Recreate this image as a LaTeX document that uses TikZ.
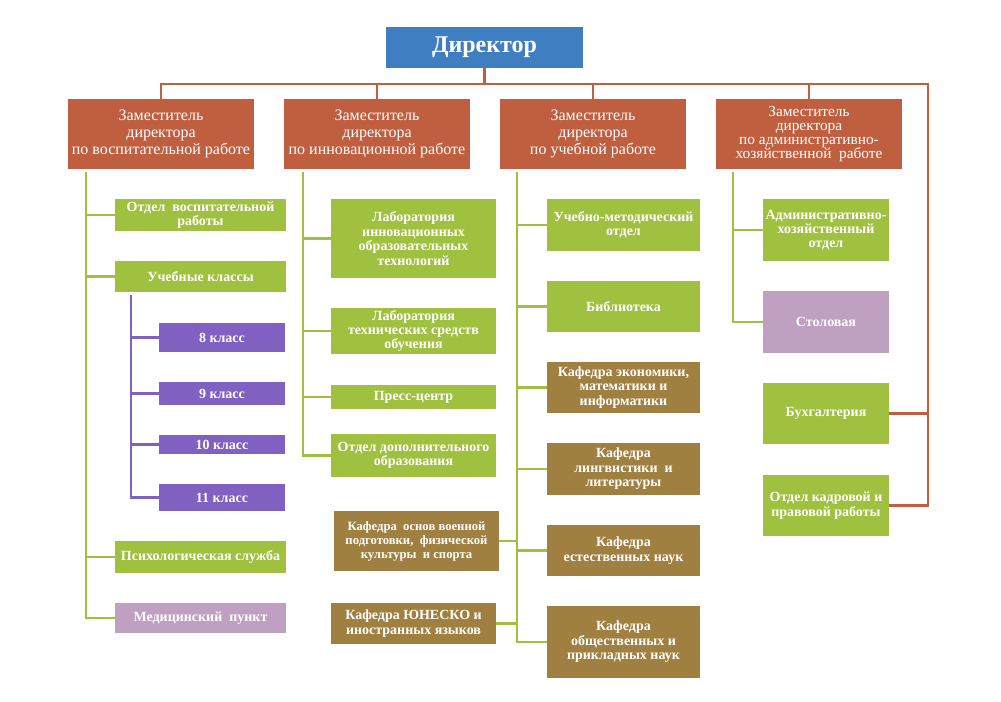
\documentclass[tikz,border=0pt]{standalone}
\usepackage{fontspec}
\setmainfont{Liberation Serif}
\usepackage{tikz}
\definecolor{dirblue}{RGB}{63,127,193}
\definecolor{zamred}{RGB}{192,95,64}
\definecolor{grn}{RGB}{160,192,64}
\definecolor{viol}{RGB}{128,96,192}
\definecolor{lilac}{RGB}{192,160,192}
\definecolor{brn}{RGB}{160,128,64}
\newcommand{\tightlines}{\lineskiplimit=-10pt\relax}

\begin{document}
\begin{tikzpicture}[
    x=0.75pt, y=-0.75pt,
    sz/.style 2 args={minimum width=#1*0.75pt, minimum height=#2*0.75pt},
    head/.style={rectangle, inner sep=0pt, fill=dirblue, text=white, font={\fontsize{18}{18}\selectfont\bfseries}},
    zam/.style={rectangle, inner sep=0pt, sz={186}{70}, fill=zamred, text=white, align=center, font={\fontsize{12}{12.75}\selectfont\tightlines}},
    dept/.style={rectangle, inner sep=0pt, fill=#1, text=white, align=center, font={\fontsize{10.5}{10.8}\selectfont\bfseries\tightlines}},
    redline/.style={draw=zamred, line width=2.2pt},
    grline/.style={draw=grn, line width=2.2pt},
    vline/.style={draw=viol, line width=2.2pt},
  ]
  \useasboundingbox (0,0) rectangle (1001,702);

  % Director and deputies
  \node[head, sz={197}{41}] (dir) at (484.5,47.5) {Директор};
  \node[zam] (z1) at (161,134) {Заместитель\\директора\\по воспитательной работе};
  \node[zam] (z2) at (377,134) {Заместитель\\директора\\по инновационной работе};
  \node[zam] (z3) at (593,134) {Заместитель\\директора\\по учебной работе};
  \node[zam, font={\fontsize{11.5}{10.6}\selectfont\tightlines}] (z4) at (809,134) {Заместитель\\директора\\по административно-\\хозяйственной\ \ работе};

  \coordinate (hub) at (484.5,84);
  \coordinate (rail) at (928,84);
  \foreach \z in {z1,z2,z3,z4} {
    \draw[redline] (dir.south) -- (hub) -| (\z.north);
  }

  % Column 1
  \node[dept=grn, sz={171}{32}] (otd) at (200.5,215) {Отдел\ \ воспитательной\\работы};
  \node[dept=grn, sz={171}{31}] (ucheb) at (200.5,276.5) {Учебные классы};
  \node[dept=viol, sz={126}{29}] (k8) at (222,337.5) {8 класс};
  \node[dept=viol, sz={126}{23}] (k9) at (222,393.5) {9 класс};
  \node[dept=viol, sz={126}{19}] (k10) at (222,444.5) {10 класс};
  \node[dept=viol, sz={126}{27}] (k11) at (222,497.5) {11 класс};
  \node[dept=grn, sz={171}{32}] (psy) at (200.5,557) {Психологическая служба};
  \node[dept=lilac, sz={171}{30}] (med) at (200.5,618) {Медицинский\ \ пункт};

  \coordinate (t1) at (86,172);
  \draw[grline] (t1) |- (med.west);
  \foreach \b in {otd,ucheb,psy} {
    \draw[grline] (t1 |- \b.west) -- (\b.west);
  }
  \coordinate (tk) at (131,295);
  \draw[vline] (tk) |- (k11.west);
  \foreach \b in {k8,k9,k10} {
    \draw[vline] (tk |- \b.west) -- (\b.west);
  }

  % Column 2
  \node[dept=grn, sz={165}{79}] (lab1) at (413.5,238.5) {Лаборатория\\инновационных\\образовательных\\технологий};
  \node[dept=grn, sz={165}{46}] (lab2) at (413.5,331) {Лаборатория\\технических средств\\обучения};
  \node[dept=grn, sz={165}{24}] (press) at (413.5,397) {Пресс-центр};
  \node[dept=grn, sz={165}{43}] (dop) at (413.5,455.5) {Отдел дополнительного\\образования};
  \node[dept=brn, sz={165}{60}, font={\fontsize{9.5}{10.5}\selectfont\bfseries\tightlines}] (voen) at (416.5,541) {Кафедра\ \ основ военной\\подготовки,\ \ физической\\культуры\ \ и спорта};
  \node[dept=brn, sz={165}{41}] (unesco) at (413.5,623.5) {Кафедра ЮНЕСКО и\\иностранных языков};

  \coordinate (t2) at (303,172);
  \draw[grline] (t2) |- (dop.west);
  \foreach \b in {lab1,lab2,press} {
    \draw[grline] (t2 |- \b.west) -- (\b.west);
  }

  % Column 3
  \node[dept=grn, sz={153}{52}] (um) at (623.5,225) {Учебно-методический\\отдел};
  \node[dept=grn, sz={153}{51}] (bib) at (623.5,306.5) {Библиотека};
  \node[dept=brn, sz={153}{51}] (econ) at (623.5,387.5) {Кафедра экономики,\\математики и\\информатики};
  \node[dept=brn, sz={153}{52}] (ling) at (623.5,469) {Кафедра\\лингвистики\ \ и\\литературы};
  \node[dept=brn, sz={153}{51}] (est) at (623.5,550.5) {Кафедра\\естественных наук};
  \node[dept=brn, sz={153}{72}] (obsh) at (623.5,642) {Кафедра\\общественных и\\прикладных наук};

  \coordinate (t3) at (517,172);
  \draw[grline] (t3) |- (obsh.west);
  \foreach \b in {um,bib,econ,ling,est} {
    \draw[grline] (t3 |- \b.west) -- (\b.west);
  }
  \foreach \b in {voen,unesco} {
    \draw[grline] (\b.east) -- (t3 |- \b.east);
  }

  % Column 4
  \node[dept=grn, sz={126}{62}] (adm) at (826,230) {Административно-\\хозяйственный\\отдел};
  \node[dept=lilac, sz={126}{62}] (stol) at (826,322) {Столовая};
  \node[dept=grn, sz={126}{61}] (buh) at (826,413.5) {Бухгалтерия};
  \node[dept=grn, sz={126}{61}] (kadr) at (826,505.5) {Отдел кадровой и\\правовой работы};

  \coordinate (t4) at (733,172);
  \draw[grline] (t4) |- (stol.west);
  \draw[grline] (t4 |- adm.west) -- (adm.west);

  \draw[redline] (hub) -- (rail) |- (kadr.east);
  \draw[redline] (buh.east) -- (buh.east -| rail);

\end{tikzpicture}
\end{document}
